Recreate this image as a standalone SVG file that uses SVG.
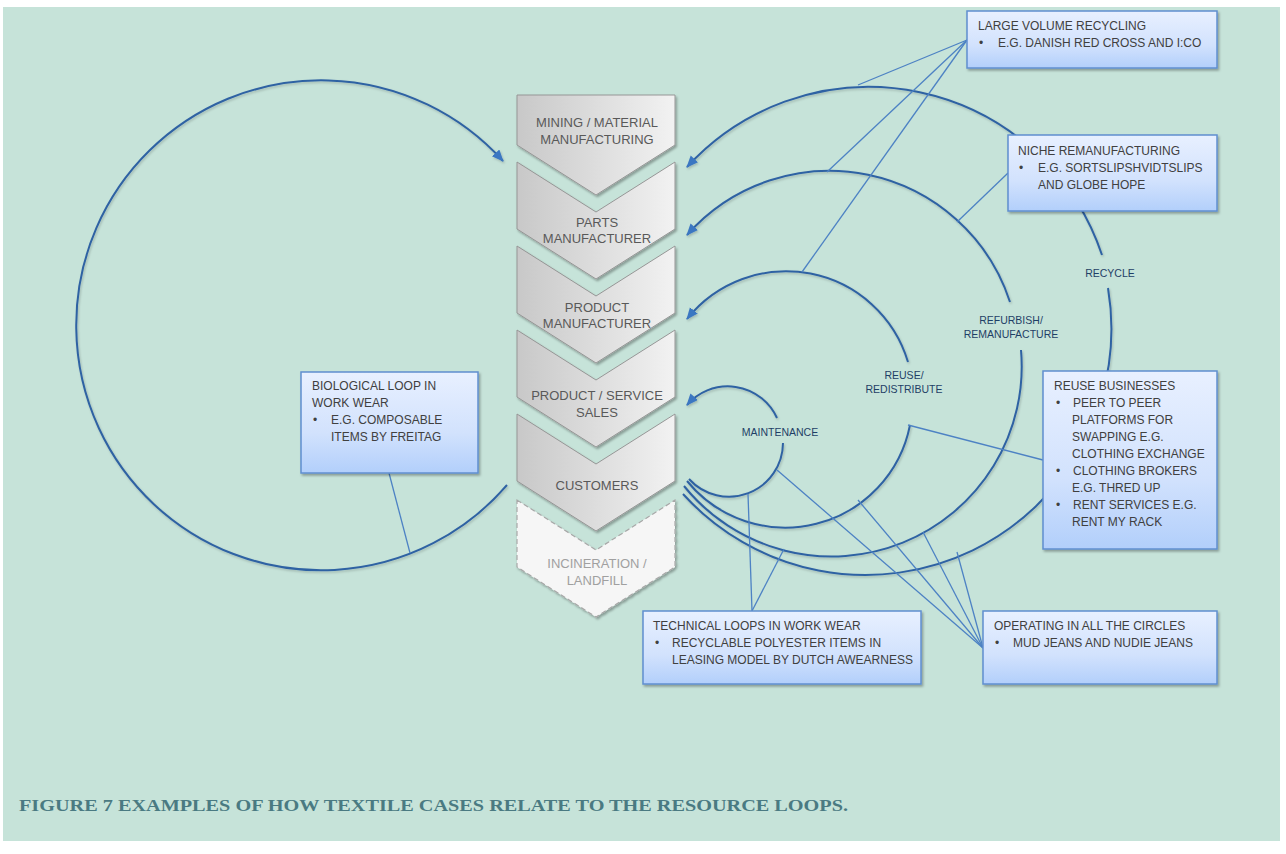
<svg xmlns="http://www.w3.org/2000/svg" width="1286" height="854" viewBox="0 0 1286 854">
<defs>
<style>
.chev{stroke:#969696;stroke-width:1;fill:url(#gChev);filter:url(#sh)}
.chevD{stroke:#a8a8a8;stroke-width:1.2;stroke-dasharray:5 3;fill:#f6f6f6;filter:url(#sh)}
.ct{font-family:"Liberation Sans",Arial,sans-serif;font-size:13px;fill:#595959;text-anchor:middle}
.ctD{font-family:"Liberation Sans",Arial,sans-serif;font-size:13px;fill:#a0a0a0;text-anchor:middle}
.box{fill:url(#gBox);stroke:#5f8fd0;stroke-width:1.5;filter:url(#sh)}
.bt{font-family:"Liberation Sans",Arial,sans-serif;font-size:12px;fill:#404040}
.arc{fill:none;stroke:#2f62a3;stroke-width:2;filter:url(#sha)}
.con{fill:none;stroke:#4d82c4;stroke-width:1.3}
.lbl{font-family:"Liberation Sans",Arial,sans-serif;font-size:10.5px;fill:#1f3f66;text-anchor:middle}
</style>
<linearGradient id="gChev" x1="0" y1="0" x2="1" y2="0">
<stop offset="0" stop-color="#c8c8c8"/><stop offset="1" stop-color="#f2f2f2"/>
</linearGradient>
<linearGradient id="gBox" x1="0" y1="0" x2="0" y2="1">
<stop offset="0" stop-color="#e8f0ff"/><stop offset="0.6" stop-color="#d2e2fd"/><stop offset="1" stop-color="#b2cffb"/>
</linearGradient>
<filter id="sh" x="-10%" y="-10%" width="130%" height="130%">
<feDropShadow dx="1.5" dy="2" stdDeviation="1.2" flood-color="#000" flood-opacity="0.3"/>
</filter>
<filter id="sha" x="-10%" y="-10%" width="130%" height="130%">
<feDropShadow dx="1" dy="1.5" stdDeviation="1" flood-color="#000" flood-opacity="0.2"/>
</filter>
<marker id="ah" markerUnits="userSpaceOnUse" markerWidth="14" markerHeight="12" refX="11" refY="5" orient="auto">
<path d="M0,0 L12,5 L0,10 z" fill="#3b77c2"/>
</marker>
</defs>
<rect x="0" y="0" width="1286" height="854" fill="#ffffff"/>
<rect x="3" y="7" width="1277" height="834" fill="#c6e3d9"/>

<g id="connectors">
<path class="arc" d="M 507 485 A 245 245 0 1 1 503 161" marker-end="url(#ah)"/>
<path class="arc" d="M 689 479 A 54 54 0 0 0 783 443"/>
<path class="arc" d="M 777 418 A 54 54 0 0 0 687 405" marker-end="url(#ah)"/>
<path class="arc" d="M 687 481 A 127 127 0 0 0 910 425"/>
<path class="arc" d="M 908 362 A 127 127 0 0 0 687 319" marker-end="url(#ah)"/>
<path class="arc" d="M 684 486 A 190 190 0 0 0 1021 350"/>
<path class="arc" d="M 1010 302 A 190 190 0 0 0 687 235" marker-end="url(#ah)"/>
<path class="arc" d="M 683 494 A 246 246 0 0 0 1108 288"/>
<path class="arc" d="M 1102 255 A 246 246 0 0 0 687 167" marker-end="url(#ah)"/>
<line class="con" x1="967" y1="40" x2="858" y2="85"/>
<line class="con" x1="967" y1="40" x2="827" y2="172"/>
<line class="con" x1="967" y1="40" x2="802" y2="272"/>
<line class="con" x1="1008" y1="173" x2="957" y2="222"/>
<line class="con" x1="1043" y1="460" x2="908" y2="425"/>
<line class="con" x1="389" y1="473" x2="410" y2="553"/>
<line class="con" x1="752" y1="611" x2="748" y2="494"/>
<line class="con" x1="752" y1="611" x2="784" y2="549"/>
<line class="con" x1="983" y1="648" x2="777" y2="470"/>
<line class="con" x1="983" y1="648" x2="858" y2="500"/>
<line class="con" x1="983" y1="648" x2="923" y2="532"/>
<line class="con" x1="983" y1="648" x2="957" y2="552"/>
</g>

<g id="labels">
<text class="lbl" x="1110" y="277">RECYCLE</text>
<text class="lbl" x="1011" y="324">REFURBISH/</text>
<text class="lbl" x="1011" y="338">REMANUFACTURE</text>
<text class="lbl" x="904" y="379">REUSE/</text>
<text class="lbl" x="904" y="393">REDISTRIBUTE</text>
<text class="lbl" x="780" y="436">MAINTENANCE</text>
</g>

<g id="chev-mining">
<polygon class="chev" points="517,95 675,95 675,145 596,195 517,145"/>
<text class="ct" x="597" y="127">MINING / MATERIAL</text>
<text class="ct" x="597" y="144">MANUFACTURING</text>
</g>
<g id="chev-parts">
<polygon class="chev" points="517,162 596,212 675,162 675,229 596,279 517,229"/>
<text class="ct" x="597" y="227">PARTS</text>
<text class="ct" x="597" y="243">MANUFACTURER</text>
</g>
<g id="chev-product">
<polygon class="chev" points="517,246 596,296 675,246 675,313 596,363 517,313"/>
<text class="ct" x="597" y="312">PRODUCT</text>
<text class="ct" x="597" y="328">MANUFACTURER</text>
</g>
<g id="chev-sales">
<polygon class="chev" points="517,330 596,380 675,330 675,397 596,447 517,397"/>
<text class="ct" x="597" y="400">PRODUCT / SERVICE</text>
<text class="ct" x="597" y="417">SALES</text>
</g>
<g id="chev-customers">
<polygon class="chev" points="517,414 596,464 675,414 675,481 596,531 517,481"/>
<text class="ct" x="597" y="490">CUSTOMERS</text>
</g>
<g id="chev-incineration">
<polygon class="chevD" points="517,500 596,550 675,500 675,567 596,617 517,567"/>
<text class="ctD" x="597" y="568">INCINERATION /</text>
<text class="ctD" x="597" y="585">LANDFILL</text>
</g>

<g id="box-large-volume">
<rect class="box" x="967" y="11" width="250" height="57"/>
<text class="bt" x="978" y="30">LARGE VOLUME RECYCLING</text>
<text class="bt" x="979" y="47">•</text>
<text class="bt" x="998" y="47">E.G. DANISH RED CROSS AND I:CO</text>
</g>
<g id="box-niche">
<rect class="box" x="1008" y="135" width="209" height="76"/>
<text class="bt" x="1018" y="155">NICHE REMANUFACTURING</text>
<text class="bt" x="1019" y="172">•</text>
<text class="bt" x="1038" y="172">E.G. SORTSLIPSHVIDTSLIPS</text>
<text class="bt" x="1038" y="189">AND GLOBE HOPE</text>
</g>
<g id="box-reuse">
<rect class="box" x="1043" y="371" width="174" height="178"/>
<text class="bt" x="1054" y="390">REUSE BUSINESSES</text>
<text class="bt" x="1056" y="407">•</text>
<text class="bt" x="1073" y="407">PEER TO PEER</text>
<text class="bt" x="1072" y="424">PLATFORMS FOR</text>
<text class="bt" x="1072" y="441">SWAPPING E.G.</text>
<text class="bt" x="1072" y="458">CLOTHING EXCHANGE</text>
<text class="bt" x="1056" y="475">•</text>
<text class="bt" x="1073" y="475">CLOTHING BROKERS</text>
<text class="bt" x="1072" y="492">E.G. THRED UP</text>
<text class="bt" x="1056" y="509">•</text>
<text class="bt" x="1073" y="509">RENT SERVICES E.G.</text>
<text class="bt" x="1072" y="526">RENT MY RACK</text>
</g>
<g id="box-biological">
<rect class="box" x="301" y="372" width="177" height="101"/>
<text class="bt" x="312" y="390">BIOLOGICAL LOOP IN</text>
<text class="bt" x="312" y="407">WORK WEAR</text>
<text class="bt" x="313" y="424">•</text>
<text class="bt" x="331" y="424">E.G. COMPOSABLE</text>
<text class="bt" x="331" y="441">ITEMS BY FREITAG</text>
</g>
<g id="box-technical">
<rect class="box" x="643" y="611" width="278" height="73"/>
<text class="bt" x="653" y="630">TECHNICAL LOOPS IN WORK WEAR</text>
<text class="bt" x="655" y="647">•</text>
<text class="bt" x="672" y="647">RECYCLABLE POLYESTER ITEMS IN</text>
<text class="bt" x="672" y="664">LEASING MODEL BY DUTCH AWEARNESS</text>
</g>
<g id="box-operating">
<rect class="box" x="983" y="611" width="234" height="73"/>
<text class="bt" x="994" y="630">OPERATING IN ALL THE CIRCLES</text>
<text class="bt" x="995" y="647">•</text>
<text class="bt" x="1013" y="647">MUD JEANS AND NUDIE JEANS</text>
</g>

<text x="19" y="811" font-family="'Liberation Serif',Georgia,serif" font-weight="bold" font-size="16.5" fill="#4a7a82" textLength="829" lengthAdjust="spacingAndGlyphs">FIGURE 7 EXAMPLES OF HOW TEXTILE CASES RELATE TO THE RESOURCE LOOPS.</text>
</svg>
